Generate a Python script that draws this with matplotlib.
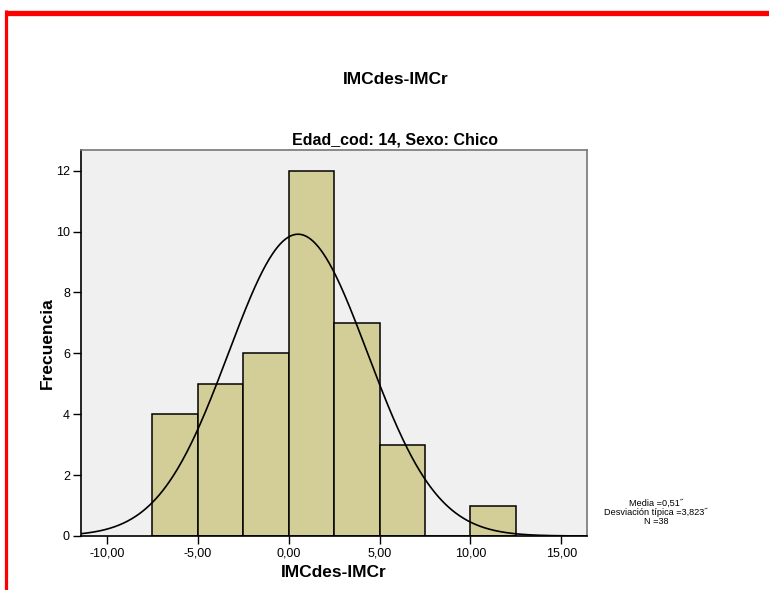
import numpy as np
import matplotlib
matplotlib.use("Agg")
import matplotlib.pyplot as plt
from matplotlib.lines import Line2D
from matplotlib.ticker import FuncFormatter

plt.rcParams['font.family'] = ['Liberation Sans', 'DejaVu Sans']

# Histogram data: bin edges and frequencies
bin_edges = [-7.5, -5.0, -2.5, 0.0, 2.5, 5.0, 7.5, 10.0, 12.5]
counts = [4, 5, 6, 12, 7, 3, 0, 1]

# Summary statistics shown beside the chart
mean_val = 0.51
std_val = 3.823
n_val = 38

x_ticks = [-10, -5, 0, 5, 10, 15]
y_ticks = [0, 2, 4, 6, 8, 10, 12]

title = "IMCdes-IMCr"
subtitle = "Edad_cod: 14, Sexo: Chico"
xlabel = "IMCdes-IMCr"
ylabel = "Frecuencia"

fig = plt.figure(figsize=(7.69, 5.90), dpi=100)
ax = fig.add_axes([81 / 769, 1 - 536 / 590, (587 - 81) / 769, (536 - 150) / 590])
ax.set_facecolor('#F0F0F0')

widths = np.diff(bin_edges)
ax.bar(bin_edges[:-1], counts, width=widths, align='edge',
       color='#D3CE97', edgecolor='black', linewidth=1.1, zorder=2)

# Normal curve scaled to the histogram
xlim = (-11.43, 16.41)
xs = np.linspace(xlim[0], xlim[1], 600)
bw = widths[0]
pdf = np.exp(-0.5 * ((xs - mean_val) / std_val) ** 2) / (std_val * np.sqrt(2 * np.pi))
ax.plot(xs, n_val * bw * pdf, color='black', linewidth=1.2, zorder=3)

ax.set_xlim(*xlim)
ax.set_ylim(0, 12.68)
ax.set_xticks(x_ticks)
ax.set_yticks(y_ticks)
ax.xaxis.set_major_formatter(FuncFormatter(lambda v, p: f"{v:.2f}".replace('.', ',')))
ax.tick_params(axis='both', direction='out', length=6, width=1.0,
               labelsize=9, colors='black', pad=2)

for side in ('top', 'right'):
    ax.spines[side].set_color('#777777')
    ax.spines[side].set_linewidth(1.2)
for side in ('left', 'bottom'):
    ax.spines[side].set_color('black')
    ax.spines[side].set_linewidth(1.2)

ax.set_xlabel(xlabel, fontsize=12.5, fontweight='bold', labelpad=4)
ax.set_ylabel(ylabel, fontsize=12.5, fontweight='bold', labelpad=1)

fig.text(396 / 769, 1 - 80 / 590, title, ha='center', va='center',
         fontsize=12.5, fontweight='bold')
fig.text(395 / 769, 1 - 140 / 590, subtitle, ha='center', va='center',
         fontsize=11.5, fontweight='bold')

stats = [f"Media ={mean_val:.2f}˝".replace('.', ','),
         f"Desviación típica ={std_val:.3f}˝".replace('.', ','),
         f"N ={n_val}"]
for i, line in enumerate(stats):
    fig.text(656 / 769, 1 - (503 + 9 * i) / 590, line, ha='center', va='center',
             fontsize=6.6)

# Red frame along the top and left edges
fig.add_artist(Line2D([5 / 769, 1.0], [1 - 12.5 / 590] * 2, color='red',
                      linewidth=3.8, transform=fig.transFigure, solid_capstyle='butt'))
fig.add_artist(Line2D([6.2 / 769] * 2, [0.0, 1 - 10 / 590], color='red',
                      linewidth=2.3, transform=fig.transFigure, solid_capstyle='butt'))

fig.savefig("out.png", dpi=100)
